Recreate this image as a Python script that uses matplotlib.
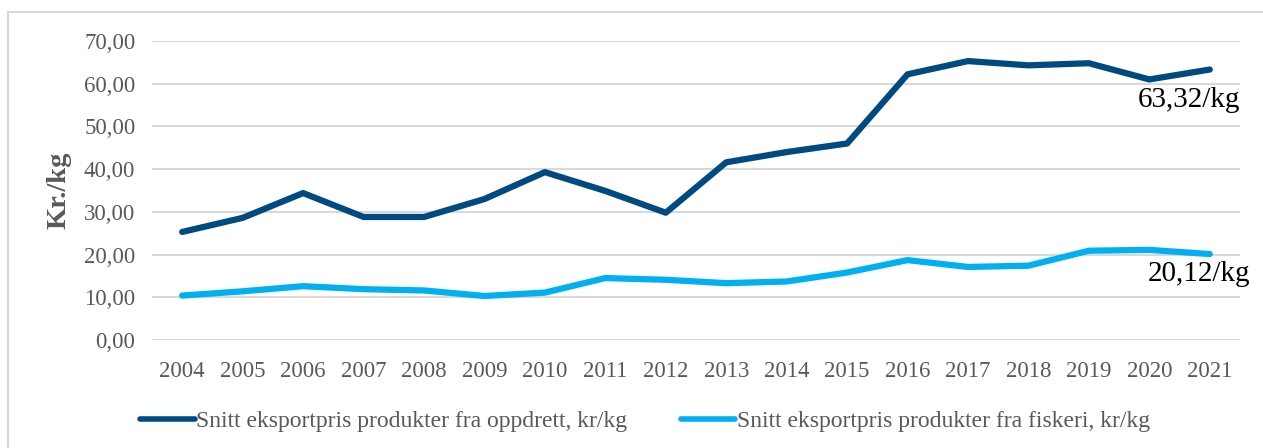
import matplotlib
matplotlib.use("Agg")
import matplotlib.pyplot as plt
from matplotlib.patches import Rectangle

years = [str(y) for y in range(2004, 2022)]
oppdrett = [25.3, 28.6, 34.4, 28.8, 28.8, 33.0, 39.3, 34.9, 29.8, 41.6, 44.0, 46.0,
            62.2, 65.3, 64.3, 64.8, 61.0, 63.32]
fiskeri = [10.4, 11.4, 12.6, 11.9, 11.6, 10.3, 11.1, 14.5, 14.1, 13.3, 13.7, 15.8,
           18.7, 17.1, 17.4, 20.9, 21.1, 20.12]
yticks = [0, 10, 20, 30, 40, 50, 60, 70]
label_opp = "Snitt eksportpris produkter fra oppdrett, kr/kg"
label_fis = "Snitt eksportpris produkter fra fiskeri, kr/kg"

plt.rcParams['font.family'] = ['Liberation Serif', 'DejaVu Serif']

W, H = 1263, 448
fig = plt.figure(figsize=(W/100, H/100), dpi=100)
ax = fig.add_axes([152/W, 1-340/H, (1240-152)/W, (340-41)/H])

dark = '#004A82'
light = '#00B0F0'
x = list(range(len(years)))
ax.plot(x, oppdrett, color=dark, lw=4.5, solid_capstyle='round', solid_joinstyle='round', label=label_opp)
ax.plot(x, fiskeri, color=light, lw=4.5, solid_capstyle='round', solid_joinstyle='round', label=label_fis)

ax.set_xlim(-0.5, len(years)-0.5)
ax.set_ylim(0, 70)
ax.set_yticks(yticks)
ax.set_yticklabels([f"{v:.2f}".replace('.', ',') for v in yticks])
ax.set_xticks(x)
ax.set_xticklabels(years)
ax.tick_params(axis='both', length=0, labelsize=16.5, colors='#595959')
ax.tick_params(axis='y', pad=12)
ax.tick_params(axis='x', pad=15)
ax.grid(axis='y', color='#D9D9D9', lw=1.5)
ax.set_axisbelow(True)
for s in ax.spines.values():
    s.set_visible(False)

ax.set_ylabel("Kr./kg", fontsize=20.5, fontweight='bold', color='#595959')
ax.yaxis.set_label_coords(-(152-72)/(1240-152), 0.5)

ax.annotate(f"{oppdrett[-1]:.2f}".replace('.', ',') + "/kg", (x[-1], oppdrett[-1]),
            xytext=(-15, -22), textcoords='offset points', ha='center', va='center',
            fontsize=21, color='black')
ax.annotate(f"{fiskeri[-1]:.2f}".replace('.', ',') + "/kg", (x[-1], fiskeri[-1]),
            xytext=(-8, -14), textcoords='offset points', ha='center', va='center',
            fontsize=21, color='black')

leg = fig.legend(loc='center', bbox_to_anchor=(645/W, 1-421/H), ncol=2, frameon=False,
                 fontsize=17, handlelength=2.3, handletextpad=0.05, columnspacing=2.3)
for t in leg.get_texts():
    t.set_color('#595959')
for l in leg.get_lines():
    l.set_linewidth(4)

fig.patches.append(Rectangle((8/W, -0.05), 1.1, 1-12/H+0.05, transform=fig.transFigure,
                             fill=False, edgecolor='#D9D9D9', lw=1.5))

fig.savefig("out.png", dpi=100)
